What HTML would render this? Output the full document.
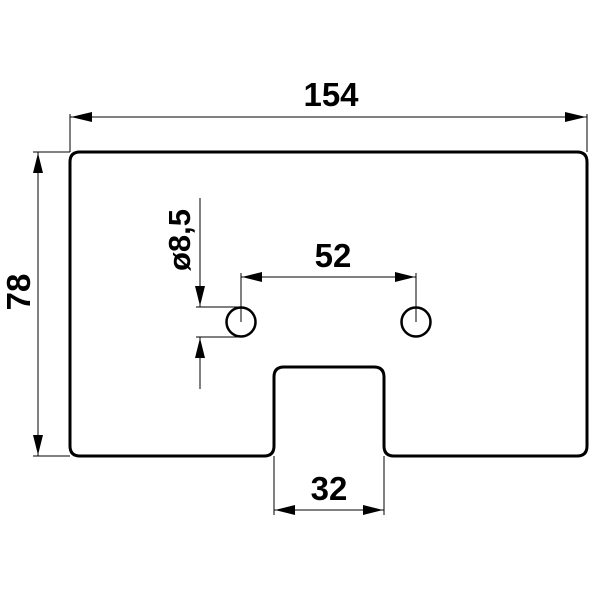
<!DOCTYPE html>
<html><head><style>
html,body{margin:0;padding:0;background:#fff;}
svg{display:block;}
text{font-family:"Liberation Sans",sans-serif;font-weight:bold;fill:#000;}
</style></head><body>
<svg width="600" height="600" viewBox="0 0 600 600" xmlns="http://www.w3.org/2000/svg">
<path d="M80,152 H577 Q587,152 587,162 V446 Q587,456 577,456 H394 Q384,456 384,446 V377 Q384,367 374,367 H284 Q274,367 274,377 V446 Q274,456 264,456 H80 Q70,456 70,446 V162 Q70,152 80,152 Z" fill="none" stroke="#000" stroke-width="3"/>
<circle cx="241" cy="322" r="14.5" fill="none" stroke="#000" stroke-width="2.5"/>
<circle cx="416" cy="322" r="14.5" fill="none" stroke="#000" stroke-width="2.5"/>
<g stroke="#000" stroke-width="1" fill="none">
<line x1="70" y1="114" x2="70" y2="152"/>
<line x1="587" y1="114" x2="587" y2="152"/>
<line x1="70" y1="117" x2="587" y2="117"/>
<line x1="33" y1="152" x2="70" y2="152"/>
<line x1="33" y1="456" x2="70" y2="456"/>
<line x1="38" y1="152" x2="38" y2="456"/>
<line x1="241" y1="273" x2="241" y2="322"/>
<line x1="416" y1="273" x2="416" y2="322"/>
<line x1="241" y1="277" x2="416" y2="277"/>
<line x1="200" y1="198" x2="200" y2="307"/>
<line x1="200" y1="337" x2="200" y2="389"/>
<line x1="196" y1="307" x2="241" y2="307"/>
<line x1="196" y1="337" x2="241" y2="337"/>
<line x1="274" y1="456" x2="274" y2="515"/>
<line x1="384" y1="456" x2="384" y2="515"/>
<line x1="274" y1="510" x2="384" y2="510"/>
</g>
<g fill="#000">
<polygon points="71,117 92,112 92,122"/>
<polygon points="586,117 565,112 565,122"/>
<polygon points="38,153 33,173 43,173"/>
<polygon points="38,455 33,435 43,435"/>
<polygon points="242,277 262,272 262,282"/>
<polygon points="415,277 395,272 395,282"/>
<polygon points="200,306 195,286 205,286"/>
<polygon points="200,338 195,358 205,358"/>
<polygon points="275,510 295,505 295,515"/>
<polygon points="383,510 363,505 363,515"/>
</g>
<text x="331" y="106" font-size="33" text-anchor="middle">154</text>
<text x="333" y="267" font-size="33" text-anchor="middle">52</text>
<text x="329" y="500" font-size="33" text-anchor="middle">32</text>
<text transform="translate(30,292) rotate(-90)" font-size="33" text-anchor="middle">78</text>
<text transform="translate(190,240) rotate(-90)" font-size="31" text-anchor="middle">ø8,5</text>
</svg>
</body></html>
